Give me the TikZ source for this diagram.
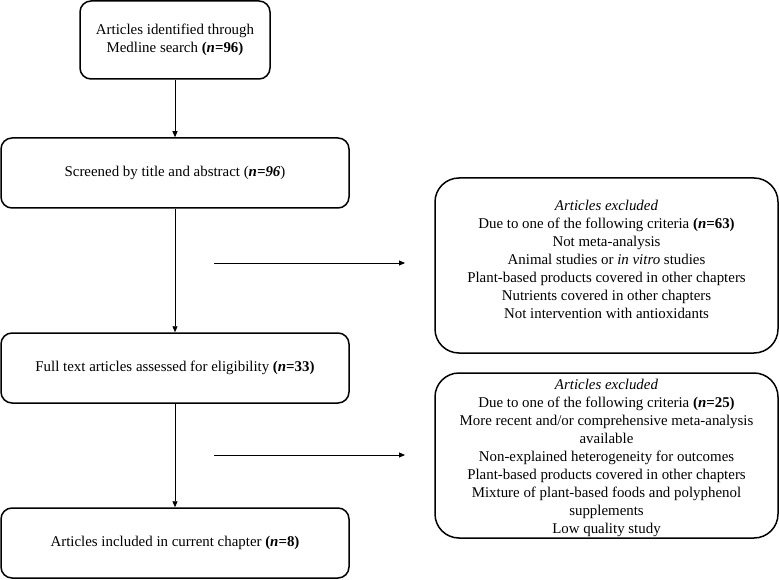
\documentclass[tikz,border=0pt]{standalone}
\usepackage{fontspec}
\setmainfont{Liberation Serif}
\usetikzlibrary{arrows.meta}
\begin{document}
\begin{tikzpicture}[x=1pt,y=-1pt,
  every node/.style={font=\fontsize{14.9}{18}\selectfont},
  mainbox/.style={draw,line width=1.5pt,rounded corners=11pt,minimum width=348pt,minimum height=70pt,align=center,inner sep=0pt},
  exbox/.style={draw,line width=1.5pt,rounded corners=24pt,minimum width=343pt,align=center,inner sep=0pt},
  conn/.style={line width=0.9pt,-{Triangle[length=6pt,width=5pt]}}]
\useasboundingbox (0,0) rectangle (779,580);
\node[mainbox,minimum width=190pt,minimum height=78pt] (b1) at (175,40) {Articles identified through\\Medline search \textbf{(\textit{n}=96)}};
\node[mainbox] (b2) at (175,173) {Screened by title and abstract (\textbf{\textit{n=96}})};
\node[mainbox] (b3) at (175,368) {Full text articles assessed for eligibility \textbf{(\textit{n}=33)}};
\node[mainbox] (b4) at (175,543) {Articles included in current chapter \textbf{(\textit{n}=8)}};
\node[exbox,minimum height=175pt] (e1) at (606.5,265.5) {};
\node[align=center] (t1) at (606.5,259) {\textit{Articles excluded}\\Due to one of the following criteria \textbf{(\textit{n}=63)}\\Not meta-analysis\\Animal studies or \textit{in vitro} studies\\Plant-based products covered in other chapters\\Nutrients covered in other chapters\\Not intervention with antioxidants};
\node[exbox,minimum height=165pt] (e2) at (606.5,455.5) {};
\node[align=center] (t2) at (606.5,457.5) {\textit{Articles excluded}\\Due to one of the following criteria \textbf{(\textit{n}=25)}\\More recent and/or comprehensive meta-analysis\\available\\Non-explained heterogeneity for outcomes\\Plant-based products covered in other chapters\\Mixture of plant-based foods and polyphenol\\supplements\\Low quality study};
\coordinate (a1s) at (214,263);
\coordinate (a1e) at (405,263);
\coordinate (a2s) at (214,455);
\coordinate (a2e) at (405,455);
\draw[conn] (b1) -- (b2);
\draw[conn] (b2) -- (b3);
\draw[conn] (b3) -- (b4);
\draw[conn] (a1s) -- (a1e);
\draw[conn] (a2s) -- (a2e);
\end{tikzpicture}
\end{document}
